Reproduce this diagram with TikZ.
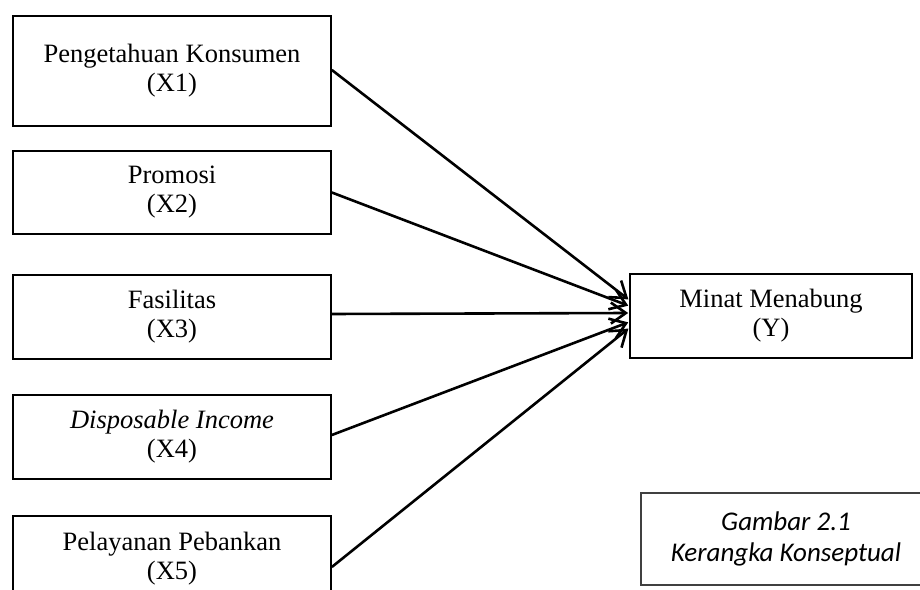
\documentclass[tikz,border=0pt]{standalone}
\usepackage{fontspec}
\setmainfont{Liberation Serif}
\newfontfamily\capfont{Carlito}
\usetikzlibrary{arrows.meta}

\begin{document}
\begin{tikzpicture}[x=1pt,y=1pt]
    \tikzstyle{v}=[rectangle,draw,line width=1.7pt,minimum width=318pt,minimum height=84pt,inner sep=0pt,align=center,font=\fontsize{26.5}{29}\selectfont]
    \tikzstyle{p}=[line width=2.6pt,-{Straight Barb[length=15pt,width=21pt]},shorten >=1pt]

    \clip (0,0) rectangle (920,589);

    \node [v,minimum height=110pt] (x1) at (172,518) {Pengetahuan Konsumen\\(X1)};
    \node [v,minimum height=83pt] (x2) at (172,396.5) {Promosi\\(X2)};
    \node [v] (x3) at (172,272) {Fasilitas\\(X3)};
    \node [v] (x4) at (172,152) {\textit{Disposable Income}\\(X4)};
    \node [v,minimum height=86pt] (x5) at (172,30) {Pelayanan Pebankan\\(X5)};

    \node [v,minimum width=282pt] (y) at (771,273) {Minat Menabung\\(Y)};

    \node [rectangle,draw=black!75,line width=1.3pt,minimum width=290pt,minimum height=92pt,align=center,
           font=\capfont\itshape\fontsize{27}{31}\selectfont] (cap) at (786,50) {Gambar 2.1\\Kerangka Konseptual};

    \draw [p] ([yshift=1pt]x1.east) -- ([yshift=16pt]y.west);
    \draw [p] (x2.east) -- ([yshift=10pt]y.west);
    \draw [p] ([yshift=3pt]x3.east) -- ([yshift=3pt]y.west);
    \draw [p] ([yshift=2pt]x4.east) -- ([yshift=-6pt]y.west);
    \draw [p] ([yshift=-8pt]x5.east) -- ([yshift=-12pt]y.west);
\end{tikzpicture}
\end{document}
